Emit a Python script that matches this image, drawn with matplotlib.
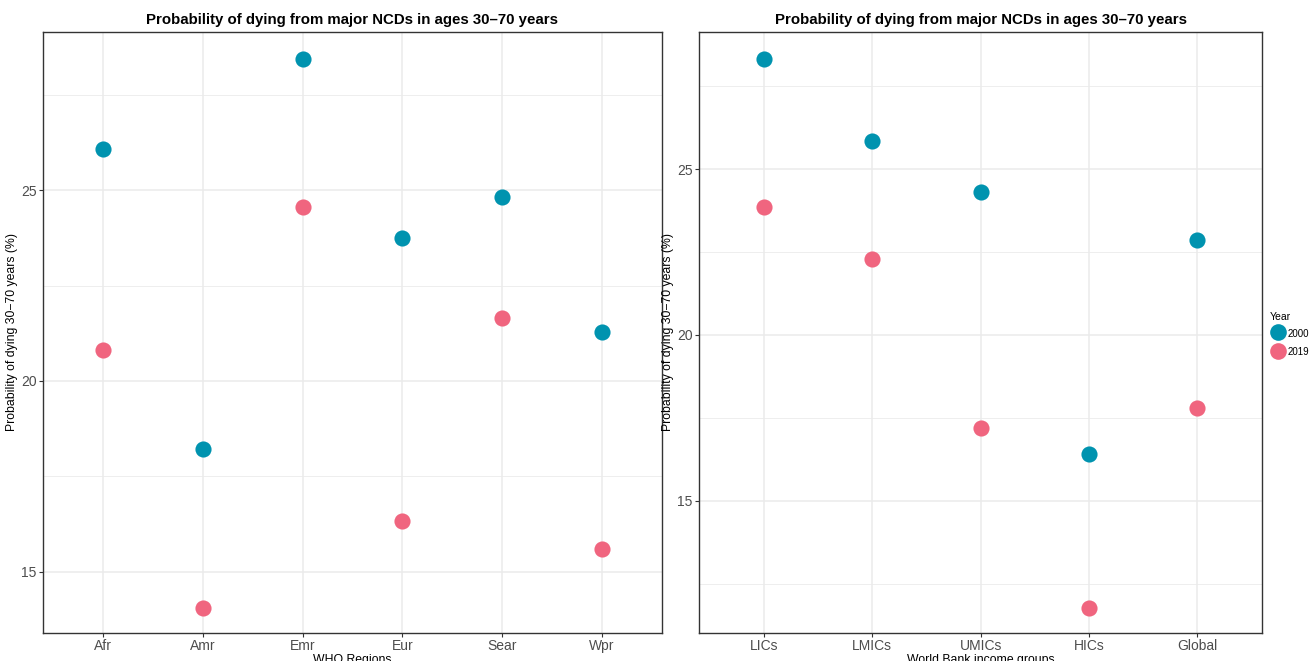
import numpy as np
import matplotlib.pyplot as plt
from matplotlib.lines import Line2D
from matplotlib.ticker import MultipleLocator

plt.rcParams['font.family'] = ['Liberation Sans', 'DejaVu Sans']

# data
who_regions = ['Afr', 'Amr', 'Emr', 'Eur', 'Sear', 'Wpr']
who_2000 = [26.07, 18.22, 28.43, 23.74, 24.82, 21.28]
who_2019 = [20.81, 14.06, 24.55, 16.34, 21.65, 15.60]

wb_groups = ['LICs', 'LMICs', 'UMICs', 'HICs', 'Global']
wb_2000 = [28.31, 25.84, 24.31, 16.42, 22.86]
wb_2019 = [23.86, 22.29, 17.20, 11.78, 17.80]

years = ['2000', '2019']
col2000 = '#0093AF'
col2019 = '#F0657F'
title = 'Probability of dying from major NCDs in ages 30\u201370 years'


def style_panel(ax, cats, xlab, ylim):
  n = len(cats)
  ax.set_xlim(-0.6, n - 0.4)
  ax.set_ylim(*ylim)
  ax.set_xticks(range(n))
  ax.set_xticklabels(cats)
  ax.yaxis.set_major_locator(MultipleLocator(5))
  ax.yaxis.set_minor_locator(MultipleLocator(2.5))
  ax.grid(True, which='major', color='#ebebeb', linewidth=1.1)
  ax.grid(True, which='minor', axis='y', color='#ebebeb', linewidth=0.6)
  ax.set_axisbelow(True)
  ax.tick_params(which='major', length=3, color='#333333', labelcolor='#4d4d4d', labelsize=10, pad=1.5)
  ax.tick_params(which='minor', length=0)
  for sp in ax.spines.values():
    sp.set_color('#333333')
    sp.set_linewidth(1.0)
  ax.set_title(title, fontsize=10.8, fontweight='bold', pad=6)
  ax.set_xlabel(xlab, fontsize=8.8, labelpad=0.5)
  ax.set_ylabel('Probability of dying 30\u221270 years (%)', fontsize=8.8, labelpad=2)


fig = plt.figure(figsize=(13.14, 6.61), dpi=100)
ax1 = fig.add_axes([0.0327, 0.0424, 0.4711, 0.9092])
ax2 = fig.add_axes([0.5320, 0.0424, 0.4285, 0.9092])

x1 = np.arange(len(who_regions))
ax1.scatter(x1, who_2000, s=135, color=col2000, zorder=3, linewidths=0)
ax1.scatter(x1, who_2019, s=135, color=col2019, zorder=3, linewidths=0)
style_panel(ax1, who_regions, 'WHO Regions', (13.4, 29.14))

x2 = np.arange(len(wb_groups))
ax2.scatter(x2, wb_2000, s=135, color=col2000, zorder=3, linewidths=0)
ax2.scatter(x2, wb_2019, s=135, color=col2019, zorder=3, linewidths=0)
style_panel(ax2, wb_groups, 'World Bank income groups', (11.02, 29.13))

handles = [Line2D([], [], marker='o', linestyle='', markersize=12, color=c, markeredgewidth=0)
           for c in (col2000, col2019)]
leg = fig.legend(handles, years, title='Year', loc='center left', bbox_to_anchor=(0.9662, 0.493),
                 frameon=False, fontsize=7, title_fontsize=7.5, handletextpad=0.1,
                 borderpad=0, borderaxespad=0, handlelength=1.8, handleheight=1.6,
                 labelspacing=0.6)
leg._legend_box.align = 'left'

fig.savefig('out.png', dpi=100)
